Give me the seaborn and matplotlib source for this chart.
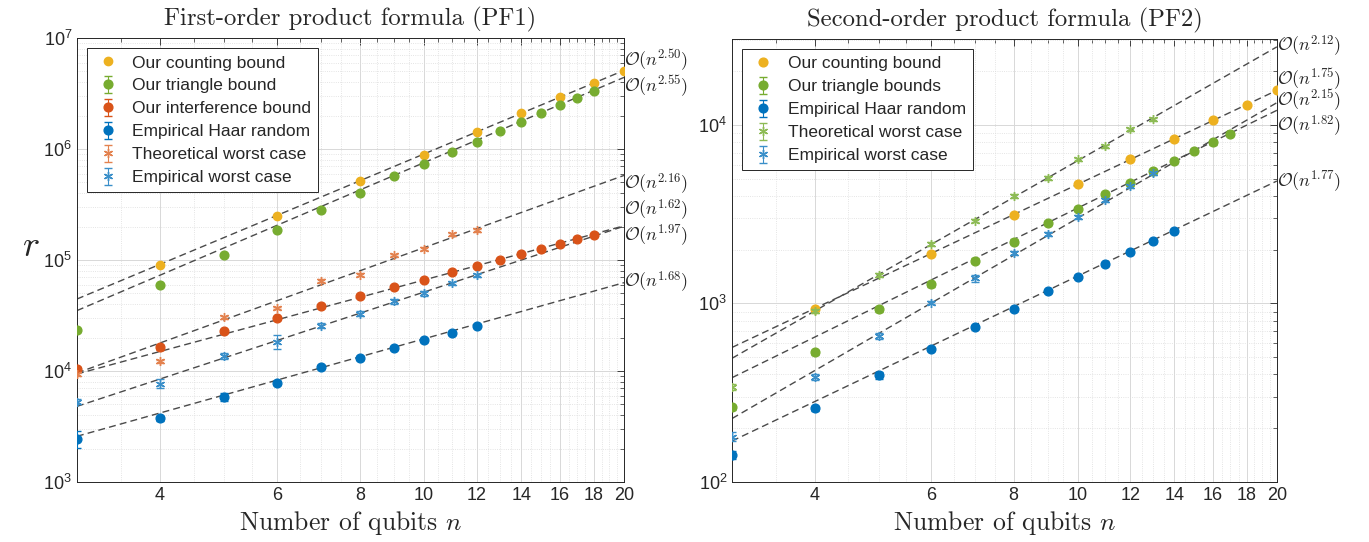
import matplotlib
matplotlib.use('Agg')
import matplotlib.pyplot as plt
from matplotlib.ticker import FixedLocator, NullFormatter, LogLocator, ScalarFormatter
import numpy as np
import pandas as pd
import seaborn as sns

# ---------------- PF1 (first order) ----------------
n_pf1_count = [4, 6, 8, 10, 12, 14, 16, 18, 20]
pf1_count = [9.1e4, 2.5e5, 5.17e5, 8.9e5, 1.41e6, 2.09e6, 2.92e6, 3.9e6, 5.07e6]

n_pf1_tri = list(range(3, 19))
pf1_tri = [2.32e4, 6.0e4, 1.12e5, 1.87e5, 2.84e5, 4.04e5, 5.75e5, 7.37e5,
           9.46e5, 1.16e6, 1.46e6, 1.75e6, 2.09e6, 2.47e6, 2.9e6, 3.33e6]
pf1_tri_err = [0.04] + [0.02] * 15

n_pf1_int = list(range(3, 19))
pf1_int = [1.05e4, 1.64e4, 2.27e4, 3.0e4, 3.82e4, 4.7e4, 5.66e4, 6.65e4,
           7.74e4, 8.9e4, 1.01e5, 1.14e5, 1.26e5, 1.40e5, 1.55e5, 1.69e5]
pf1_int_err = [0.04, 0.05, 0.03, 0.03, 0.03, 0.02, 0.02, 0.02,
               0.02, 0.02, 0.02, 0.02, 0.02, 0.02, 0.02, 0.02]

n_pf1_haar = list(range(3, 13))
pf1_haar = [2.45e3, 3.74e3, 5.87e3, 7.85e3, 1.09e4, 1.31e4, 1.62e4, 1.9e4, 2.21e4, 2.56e4]
pf1_haar_err = [0.18, 0.06, 0.09, 0.04, 0.04, 0.04, 0.03, 0.03, 0.04, 0.03]

n_pf1_theo = list(range(3, 13))
pf1_theo = [9.3e3, 1.22e4, 3.04e4, 3.7e4, 6.5e4, 7.4e4, 1.11e5, 1.26e5, 1.70e5, 1.86e5]
pf1_theo_err = [0.03] * 10

n_pf1_emp = list(range(3, 13))
pf1_emp = [5.3e3, 7.7e3, 1.36e4, 1.84e4, 2.56e4, 3.28e4, 4.24e4, 5.0e4, 6.2e4, 7.3e4]
pf1_emp_err = [0.05, 0.09, 0.06, 0.14, 0.05, 0.05, 0.05, 0.06, 0.03, 0.03]

# fitted power laws: exponent and value of the fit at n = 3
pf1_fit_exp = [2.50, 2.55, 2.16, 1.62, 1.97, 1.68]
pf1_fit_at3 = [4.45e4, 3.5e4, 9.6e3, 9.4e3, 4.8e3, 2.58e3]

# ---------------- PF2 (second order) ----------------
n_pf2_count = [4, 6, 8, 10, 12, 14, 16, 18, 20]
pf2_count = [933, 1883, 3.15e3, 4.65e3, 6.43e3, 8.37e3, 1.07e4, 1.30e4, 1.57e4]

n_pf2_tri = list(range(3, 18))
pf2_tri = [261, 531, 925, 1278, 1734, 2.22e3, 2.83e3, 3.38e3, 4.1e3, 4.71e3,
           5.5e3, 6.29e3, 7.15e3, 8.0e3, 8.93e3]
pf2_tri_err = [0.03] * 15

n_pf2_haar = list(range(3, 15))
pf2_haar = [141, 258, 394, 552, 733, 929, 1.17e3, 1.41e3, 1.66e3, 1.95e3, 2.23e3, 2.55e3]
pf2_haar_err = [0.05, 0.03, 0.04, 0.02, 0.02, 0.02, 0.02, 0.02, 0.02, 0.02, 0.02, 0.02]

n_pf2_theo = list(range(3, 14))
pf2_theo = [340, 906, 1446, 2150, 2.9e3, 4.0e3, 5.05e3, 6.43e3, 7.62e3, 9.46e3, 1.08e4]
pf2_theo_err = [0.04, 0.03, 0.03, 0.03, 0.02, 0.02, 0.02, 0.02, 0.02, 0.02, 0.02]

n_pf2_emp = list(range(3, 14))
pf2_emp = [179, 387, 656, 1008, 1381, 1.92e3, 2.45e3, 3.05e3, 3.8e3, 4.55e3, 5.36e3]
pf2_emp_err = [0.06, 0.04, 0.04, 0.02, 0.05, 0.03, 0.03, 0.03, 0.03, 0.02, 0.02]

pf2_fit_exp = [1.75, 1.82, 1.77, 2.12, 2.15]
pf2_fit_at3 = [566, 383, 169, 492, 226]

# colours (matlab defaults)
c_yel = '#EDB120'
c_grn = '#77AC30'
c_org = '#D95319'
c_blu = '#0072BD'
c_org_l = '#E3824F'
c_blu_l = '#3A8FC9'
c_grn_l = '#8DBB55'
star = (6, 2, 0)

sns.set_theme(style='whitegrid')
plt.rcParams['font.family'] = ['Liberation Sans', 'DejaVu Sans']
plt.rcParams['mathtext.fontset'] = 'cm'
plt.rcParams['axes.edgecolor'] = '#262626'
plt.rcParams['axes.linewidth'] = 0.7

fig = plt.figure(figsize=(13.69, 5.42), dpi=100)
ax1 = fig.add_axes([0.0562, 0.1107, 0.3996, 0.8192])
ax2 = fig.add_axes([0.5347, 0.1113, 0.398, 0.8168])


def errser(ax, n, v, e, color, marker, ms, label):
    v = np.array(v)
    return ax.errorbar(n, v, yerr=v * np.array(e), marker=marker, ls='none',
                       color=color, ms=ms, capsize=3, elinewidth=0.8, capthick=0.8,
                       label=label, mew=1.0, zorder=3)


def fits(ax, exps, at3, offsets):
    nn = np.array([3.0, 20.0])
    for p, c, dy in zip(exps, at3, offsets):
        df = pd.DataFrame({'n': nn, 'r': c * (nn / 3.0) ** p})
        sns.lineplot(data=df, x='n', y='r', ax=ax, color='#4a4a4a', lw=1.0,
                     legend=False, zorder=2)
        ax.lines[-1].set_dashes((5, 3))
        ax.annotate(r'$\mathcal{O}(n^{%.2f})$' % p, xy=(20, c * (20 / 3.0) ** p),
                    xytext=(0, dy), textcoords='offset pixels', ha='left',
                    va='center', fontsize=13, annotation_clip=False)


def style(ax, ylim, title):
    ax.set_xscale('log')
    ax.set_yscale('log')
    ax.set_xlim(3, 20)
    ax.set_ylim(*ylim)
    ax.xaxis.set_major_locator(FixedLocator([4, 6, 8, 10, 12, 14, 16, 18, 20]))
    ax.xaxis.set_major_formatter(ScalarFormatter())
    mins = [m for m in np.arange(3, 20.01, 0.5) if m not in (4, 6, 8, 10, 12, 14, 16, 18, 20)]
    ax.xaxis.set_minor_locator(FixedLocator(mins))
    ax.xaxis.set_minor_formatter(NullFormatter())
    ax.yaxis.set_major_locator(LogLocator(base=10))
    ax.yaxis.set_minor_locator(LogLocator(base=10, subs=range(2, 10)))
    ax.yaxis.set_minor_formatter(NullFormatter())
    ax.tick_params(which='both', direction='in', top=True, right=True,
                   labelsize=13, color='#262626')
    ax.tick_params(which='major', length=5, width=0.6)
    ax.tick_params(which='minor', length=3, width=0.5)
    ax.grid(True, which='major', color='#d8d8d8', lw=0.7, ls='-')
    ax.grid(True, which='minor', color='#dcdcdc', lw=0.6, ls=':')
    ax.set_axisbelow(True)
    ax.set_facecolor('white')
    ax.set_xlabel('Number of qubits $n$', fontfamily='cmr10', fontsize=18.5, labelpad=4)
    ax.set_title(title, fontfamily='cmr10', fontsize=17.8, pad=9)
    for s in ax.spines.values():
        s.set_color('#262626')
        s.set_linewidth(0.7)


# ---- left panel
fits(ax1, pf1_fit_exp, pf1_fit_at3, [10, -9, -9, 15, -8, 0])
h1 = ax1.plot(n_pf1_count, pf1_count, 'o', color=c_yel, ms=6, ls='none',
              label='Our counting bound', zorder=3)[0]
h2 = errser(ax1, n_pf1_tri, pf1_tri, pf1_tri_err, c_grn, 'o', 6.3, 'Our triangle bound')
h3 = errser(ax1, n_pf1_int, pf1_int, pf1_int_err, c_org, 'o', 6.3, 'Our interference bound')
h4 = errser(ax1, n_pf1_haar, pf1_haar, pf1_haar_err, c_blu, 'o', 6.3, 'Empirical Haar random')
h5 = errser(ax1, n_pf1_theo, pf1_theo, pf1_theo_err, c_org_l, star, 6.5, 'Theoretical worst case')
h6 = errser(ax1, n_pf1_emp, pf1_emp, pf1_emp_err, c_blu_l, star, 6.5, 'Empirical worst case')
style(ax1, (1e3, 1e7), 'First-order product formula (PF1)')
ax1.set_ylabel('$r$', fontsize=26, rotation=0)
ax1.yaxis.set_label_coords(-0.085, 0.49)
ax1.legend(handles=[h1, h2, h3, h4, h5, h6], loc='upper left', fontsize=12.5,
           frameon=True, fancybox=False, framealpha=1, edgecolor='#262626',
           borderaxespad=0.6, handletextpad=0.6, labelspacing=0.45,
           handlelength=1.6).get_frame().set_linewidth(0.7)

# ---- right panel
fits(ax2, pf2_fit_exp, pf2_fit_at3, [11, -16, 0, 0, 2])
g1 = ax2.plot(n_pf2_count, pf2_count, 'o', color=c_yel, ms=6.3, ls='none',
              label='Our counting bound', zorder=3)[0]
g2 = errser(ax2, n_pf2_tri, pf2_tri, pf2_tri_err, c_grn, 'o', 6.3, 'Our triangle bounds')
g3 = errser(ax2, n_pf2_haar, pf2_haar, pf2_haar_err, c_blu, 'o', 6.3, 'Empirical Haar random')
g4 = errser(ax2, n_pf2_theo, pf2_theo, pf2_theo_err, c_grn_l, star, 6.5, 'Theoretical worst case')
g5 = errser(ax2, n_pf2_emp, pf2_emp, pf2_emp_err, c_blu_l, star, 6.5, 'Empirical worst case')
style(ax2, (1e2, 3.04e4), 'Second-order product formula (PF2)')
ax2.set_ylabel('')
ax2.legend(handles=[g1, g2, g3, g4, g5], loc='upper left', fontsize=12.5,
           frameon=True, fancybox=False, framealpha=1, edgecolor='#262626',
           borderaxespad=0.6, handletextpad=0.6, labelspacing=0.45,
           handlelength=1.6).get_frame().set_linewidth(0.7)

fig.savefig('out.png', dpi=100, facecolor='white')
